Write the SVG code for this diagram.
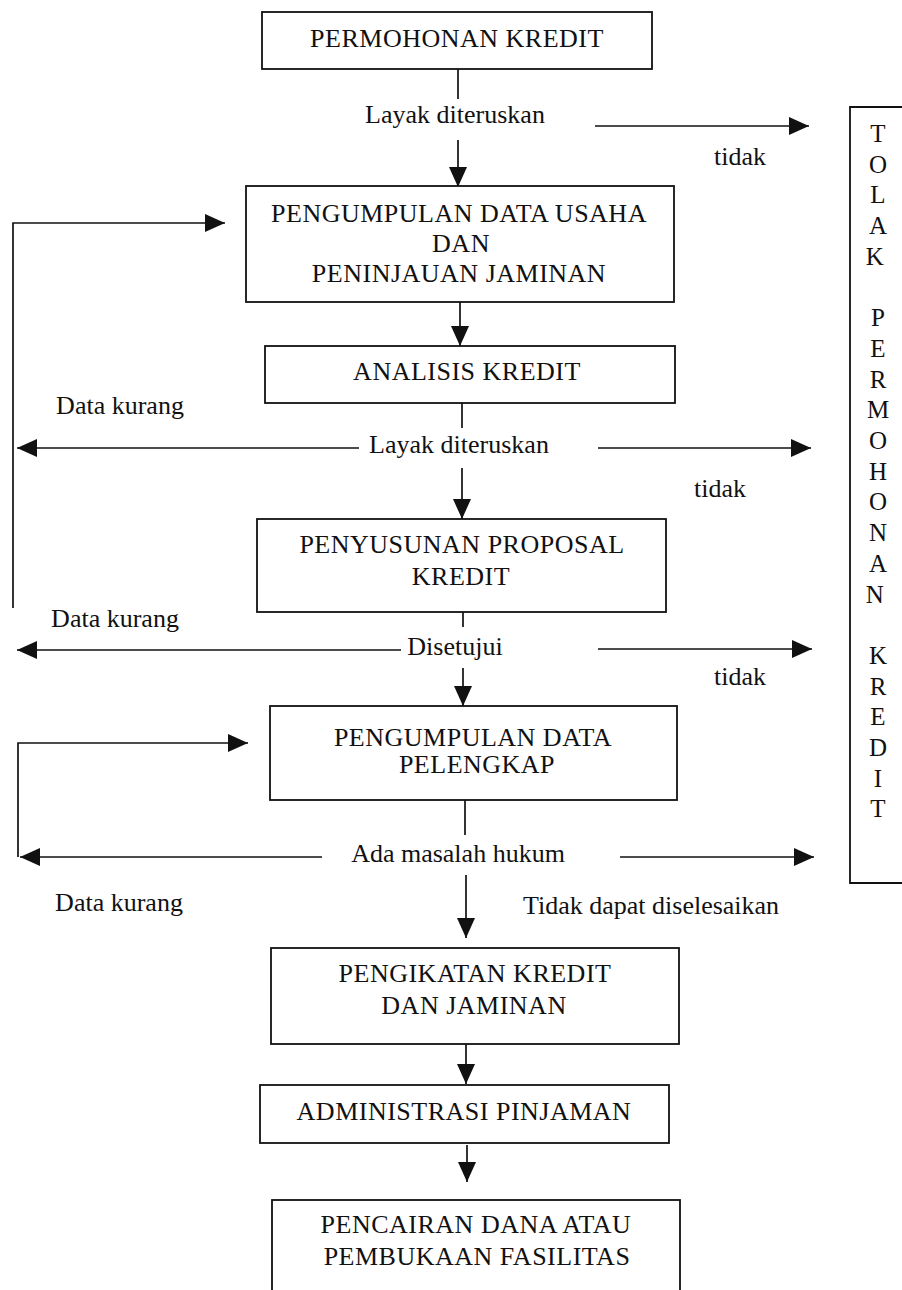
<svg xmlns="http://www.w3.org/2000/svg" width="902" height="1290" viewBox="0 0 902 1290">
<style>
.box{fill:#fff;stroke:#111;stroke-width:1.8}
.t{font-family:"Liberation Serif","Times New Roman",serif;font-size:26px;fill:#111;text-anchor:middle;letter-spacing:0.5px}
.l{font-family:"Liberation Serif","Times New Roman",serif;font-size:26px;fill:#111}
.c{fill:none;stroke:#111;stroke-width:1.7}
.v{font-family:"Liberation Serif","Times New Roman",serif;font-size:25px;fill:#111;text-anchor:middle}
</style>
<defs>
<marker id="ah" markerUnits="userSpaceOnUse" markerWidth="20" markerHeight="18" refX="20" refY="9" orient="auto">
<path d="M0,0 L20,9 L0,18 Z" fill="#111"/>
</marker>
</defs>
<rect width="902" height="1290" fill="#fff"/>

<g id="connectors">
<!-- row 1 -->
<path class="c" d="M458,69 V99"/>
<path class="c" d="M595,126 H809" marker-end="url(#ah)"/>
<path class="c" d="M458,140 V187" marker-end="url(#ah)"/>
<!-- box2 to box3 -->
<path class="c" d="M460,302 V346" marker-end="url(#ah)"/>
<!-- loop 1 -->
<path class="c" d="M13,608 V223 H225" marker-end="url(#ah)"/>
<!-- row 2 -->
<path class="c" d="M462,403 V428"/>
<path class="c" d="M359,448 H17" marker-end="url(#ah)"/>
<path class="c" d="M598,448 H811" marker-end="url(#ah)"/>
<path class="c" d="M462,468 V519" marker-end="url(#ah)"/>
<!-- row 3 -->
<path class="c" d="M463,612 V627"/>
<path class="c" d="M401,650 H17" marker-end="url(#ah)"/>
<path class="c" d="M598,649 H812" marker-end="url(#ah)"/>
<path class="c" d="M463,668 V706" marker-end="url(#ah)"/>
<!-- loop 2 -->
<path class="c" d="M18,857 V743 H248" marker-end="url(#ah)"/>
<!-- row 4 -->
<path class="c" d="M465,800 V835"/>
<path class="c" d="M322,857 H20" marker-end="url(#ah)"/>
<path class="c" d="M620,857 H814" marker-end="url(#ah)"/>
<path class="c" d="M466,875 V938" marker-end="url(#ah)"/>
<!-- lower chain -->
<path class="c" d="M466,1044 V1084" marker-end="url(#ah)"/>
<path class="c" d="M467,1145 V1182" marker-end="url(#ah)"/>
</g>

<g id="labels">
<text class="l" x="455" y="123" text-anchor="middle">Layak diteruskan</text>
<text class="l" x="740" y="165" text-anchor="middle">tidak</text>
<text class="l" x="120" y="414" text-anchor="middle">Data kurang</text>
<text class="l" x="459" y="453" text-anchor="middle">Layak diteruskan</text>
<text class="l" x="720" y="497" text-anchor="middle">tidak</text>
<text class="l" x="115" y="627" text-anchor="middle">Data kurang</text>
<text class="l" x="455" y="655" text-anchor="middle">Disetujui</text>
<text class="l" x="740" y="685" text-anchor="middle">tidak</text>
<text class="l" x="458" y="862" text-anchor="middle">Ada masalah hukum</text>
<text class="l" x="119" y="911" text-anchor="middle">Data kurang</text>
<text class="l" x="523" y="914">Tidak dapat diselesaikan</text>
</g>

<g id="n1">
<rect class="box" x="262" y="12" width="390" height="57"/>
<text class="t" x="457" y="47">PERMOHONAN KREDIT</text>
</g>
<g id="n2">
<rect class="box" x="246" y="186" width="428" height="116"/>
<text class="t" x="459" y="222">PENGUMPULAN DATA USAHA</text>
<text class="t" x="461" y="252">DAN</text>
<text class="t" x="459" y="282">PENINJAUAN JAMINAN</text>
</g>
<g id="n3">
<rect class="box" x="265" y="346" width="410" height="57"/>
<text class="t" x="467" y="380">ANALISIS KREDIT</text>
</g>
<g id="n4">
<rect class="box" x="257" y="519" width="409" height="93"/>
<text class="t" x="462" y="553">PENYUSUNAN PROPOSAL</text>
<text class="t" x="461" y="585">KREDIT</text>
</g>
<g id="n5">
<rect class="box" x="270" y="706" width="407" height="94"/>
<text class="t" x="473" y="746">PENGUMPULAN DATA</text>
<text class="t" x="477" y="773">PELENGKAP</text>
</g>
<g id="n6">
<rect class="box" x="271" y="948" width="408" height="96"/>
<text class="t" x="475" y="982">PENGIKATAN KREDIT</text>
<text class="t" x="474" y="1014">DAN JAMINAN</text>
</g>
<g id="n7">
<rect class="box" x="260" y="1085" width="409" height="58"/>
<text class="t" x="464" y="1120">ADMINISTRASI PINJAMAN</text>
</g>
<g id="n8">
<rect class="box" x="272" y="1200" width="408" height="110"/>
<text class="t" x="476" y="1233">PENCAIRAN DANA ATAU</text>
<text class="t" x="477" y="1265">PEMBUKAAN FASILITAS</text>
</g>
<g id="n9">
<path class="box" d="M910,107 H850 V883 H910"/>
<text class="v">
<tspan x="878" y="142">T</tspan><tspan x="878" y="172.7">O</tspan><tspan x="878" y="203.4">L</tspan><tspan x="878" y="234.1">A</tspan><tspan x="878" y="264.8">K</tspan>
<tspan x="878" y="326.2">P</tspan><tspan x="878" y="356.9">E</tspan><tspan x="878" y="387.6">R</tspan><tspan x="878" y="418.3">M</tspan><tspan x="878" y="449">O</tspan><tspan x="878" y="479.7">H</tspan><tspan x="878" y="510.4">O</tspan><tspan x="878" y="541.1">N</tspan><tspan x="878" y="571.8">A</tspan><tspan x="878" y="602.5">N</tspan>
<tspan x="878" y="663.9">K</tspan><tspan x="878" y="694.6">R</tspan><tspan x="878" y="725.3">E</tspan><tspan x="878" y="756">D</tspan><tspan x="878" y="786.7">I</tspan><tspan x="878" y="817.4">T</tspan>
</text>
</g>
</svg>
